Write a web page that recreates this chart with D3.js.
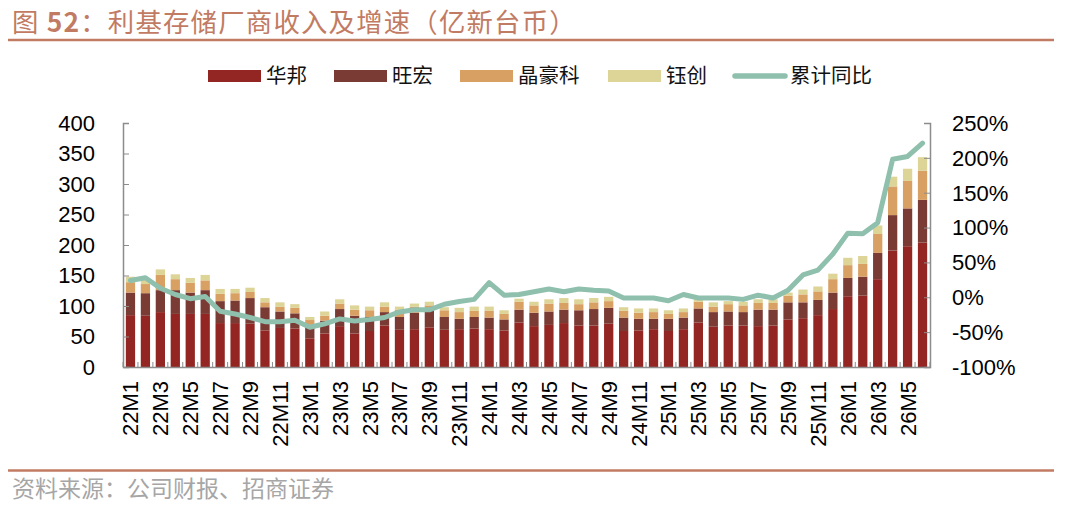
<!DOCTYPE html>
<html>
<head>
<meta charset="utf-8">
<script src="https://cdn.jsdelivr.net/npm/d3@7"></script>
<style>
  body { margin: 0; background: #fff; }
  svg { display: block; font-family: "Liberation Sans", Arial, "Noto Sans CJK SC", sans-serif; }
  .cjk { font-family: "Noto Sans CJK SC", sans-serif; }
</style>
</head>
<body>
<svg id="chart" width="1080" height="511"></svg>
<script>
// months 22M1 .. 26M6
const months = [];
for (const yr of [22, 23, 24, 25, 26]) {
  const last = yr === 26 ? 6 : 12;
  for (let m = 1; m <= last; m++) months.push(yr + 'M' + m);
}

// revenue, 亿新台币
const winbond = [85,84,90,87,87,87,72,72,71,60,64,63, 47,55,67,55,59,68,61,62,65,61,62,63,
  62,60,73,67,69,72,68,68,71,59,60,62, 59,62,73,66,68,68,67,68,78,80,85,95, 116,117,144,191,198,204];
const macronix = [37,37,36,39,35,39,36,37,42,38,27,25, 22,21,28,29,23,22,21,27,28,21,17,19,
  19,18,21,22,22,22,25,27,26,22,19,17, 20,19,23,24,23,22,27,26,28,26,25,27, 30,31,43,58,62,70];
const esmt = [17,15,25,18,16,16,12,12,10,8,8,9, 8,8,9,10,11,9,12,10,8,11,11,10,
  11,9,13,12,13,11,10,11,11,11,10,11, 8,9,11,9,12,11,11,11,11,13,14,22, 21,21,31,47,45,48];
const etron = [9,9,9,8,8,9,8,7,7,7,7,6, 5,7,7,7,6,7,5,5,6,5,7,7,
  7,6,5,6,7,8,8,7,7,6,7,6, 6,6,4,7,5,6,6,6,5,8,8,9, 12,13,14,16,20,22];
// 累计同比, %
const yoy = [24,28,13,4,-2,1,-20,-24,-29,-35,-35,-33, -43,-38,-31,-34,-32,-29,-21,-18,-18,-10,-6,-3,
  21,3,4,8,12,8,12,10,9,-1,-1,-1, -5,4,-1,-1,-1,-3,3,-1,10,32,39,62, 92,91,107,198,202,221];

const seriesNames = ['华邦', '旺宏', '晶豪科', '钰创'];
const seriesColors = ['#932622', '#7b3b35', '#d9a064', '#ddd497'];
const lineName = '累计同比';
const lineColor = '#8fbfad';
const leftTicks = [0, 50, 100, 150, 200, 250, 300, 350, 400];
const rightTicks = [-100, -50, 0, 50, 100, 150, 200, 250];

const svg = d3.select('#chart');
const plot = { left: 123, right: 930, top: 123, bottom: 367 };
const accent = '#c27b63';

const table = months.map((m, i) => ({
  month: m, '华邦': winbond[i], '旺宏': macronix[i], '晶豪科': esmt[i], '钰创': etron[i], yoy: yoy[i]
}));

const x = d3.scaleBand().domain(months).range([plot.left, plot.right])
  .paddingInner(0.38).paddingOuter(0.19);
const yL = d3.scaleLinear().domain([0, 400]).range([plot.bottom, plot.top]);
const yR = d3.scaleLinear().domain([-100, 250]).range([plot.bottom, plot.top]);

// title and rules
const title = svg.append('text').attr('class', 'cjk')
  .attr('x', 12).attr('y', 32)
  .attr('fill', accent).style('font-size', '26.4px').style('letter-spacing', '1.2px');
title.append('tspan').text('图 ');
title.append('tspan').attr('font-weight', 'bold').text('52');
title.append('tspan').text('：利基存储厂商收入及增速（亿新台币）');
svg.append('line').attr('x1', 8).attr('x2', 1054).attr('y1', 40).attr('y2', 40)
  .attr('stroke', accent).attr('stroke-width', 2.5);
svg.append('line').attr('x1', 8).attr('x2', 1054).attr('y1', 470.5).attr('y2', 470.5)
  .attr('stroke', accent).attr('stroke-width', 2.5);
svg.append('text').attr('class', 'cjk')
  .attr('x', 12).attr('y', 497)
  .attr('fill', '#a6a6a6').style('font-size', '23px')
  .text('资料来源：公司财报、招商证券');

// stacked bars
const stack = d3.stack().keys(seriesNames)(table);
svg.append('g').selectAll('g').data(stack).join('g')
  .attr('fill', (d, i) => seriesColors[i])
  .selectAll('rect').data(d => d).join('rect')
  .attr('x', d => x(d.data.month))
  .attr('width', x.bandwidth())
  .attr('y', d => yL(d[1]))
  .attr('height', d => yL(d[0]) - yL(d[1]));

// axes
const axisColor = '#8c8c8c';
const gL = svg.append('g').attr('transform', `translate(${plot.left},0)`)
  .call(d3.axisRight(yL).tickValues(leftTicks).tickSize(6).tickFormat(''));
const gR = svg.append('g').attr('transform', `translate(${plot.right},0)`)
  .call(d3.axisLeft(yR).tickValues(rightTicks).tickSize(6).tickFormat(''));
const gB = svg.append('g').attr('transform', `translate(0,${plot.bottom})`)
  .call(d3.axisTop(x).tickSize(0).tickFormat(''));
// bottom ticks between bars
gB.selectAll('.sep').data(d3.range(months.length + 1)).join('line')
  .attr('class', 'sep')
  .attr('x1', i => plot.left + i * x.step()).attr('x2', i => plot.left + i * x.step())
  .attr('y1', 0).attr('y2', -5).attr('stroke', axisColor);
[gL, gR, gB].forEach(g => {
  g.select('.domain').attr('stroke', axisColor).attr('stroke-width', 1.5);
  g.selectAll('.tick line').attr('stroke', axisColor);
});

svg.append('g').selectAll('text').data(leftTicks).join('text')
  .attr('x', 95).attr('y', d => yL(d)).attr('dy', '0.36em')
  .attr('text-anchor', 'end').style('font-size', '22px').attr('fill', '#000')
  .text(d => d);
svg.append('g').selectAll('text').data(rightTicks).join('text')
  .attr('x', 952).attr('y', d => yR(d)).attr('dy', '0.36em')
  .attr('text-anchor', 'start').style('font-size', '22px').attr('fill', '#000')
  .text(d => d + '%');

svg.append('g').selectAll('text').data(months.filter((m, i) => i % 2 === 0)).join('text')
  .attr('transform', d => `translate(${x(d) + x.bandwidth() / 2},381) rotate(-90)`)
  .attr('dy', '0.36em').attr('text-anchor', 'end')
  .style('font-size', '22px').attr('fill', '#000')
  .text(d => d);

// yoy line
const line = d3.line()
  .x(d => x(d.month) + x.bandwidth() / 2)
  .y(d => yR(d.yoy));
svg.append('path').datum(table)
  .attr('d', line).attr('fill', 'none')
  .attr('stroke', lineColor).attr('stroke-width', 5)
  .attr('stroke-linejoin', 'round').attr('stroke-linecap', 'round');

// legend
const legendItems = [
  { name: seriesNames[0], color: seriesColors[0], x: 208, type: 'rect' },
  { name: seriesNames[1], color: seriesColors[1], x: 334, type: 'rect' },
  { name: seriesNames[2], color: seriesColors[2], x: 460, type: 'rect' },
  { name: seriesNames[3], color: seriesColors[3], x: 608, type: 'rect' },
  { name: lineName, color: lineColor, x: 732, type: 'line' }
];
const lg = svg.append('g').selectAll('g').data(legendItems).join('g')
  .attr('transform', d => `translate(${d.x},76)`);
lg.filter(d => d.type === 'rect').append('rect')
  .attr('x', 0).attr('y', -6).attr('width', 53).attr('height', 12)
  .attr('fill', d => d.color);
lg.filter(d => d.type === 'line').append('line')
  .attr('x1', 3).attr('x2', 53).attr('y1', 0).attr('y2', 0)
  .attr('stroke', d => d.color).attr('stroke-width', 5.5).attr('stroke-linecap', 'round');
lg.append('text').attr('class', 'cjk')
  .attr('x', 58).attr('y', 0).attr('dy', '0.36em')
  .style('font-size', '20.5px').attr('fill', '#111')
  .text(d => d.name);
</script>
</body>
</html>
